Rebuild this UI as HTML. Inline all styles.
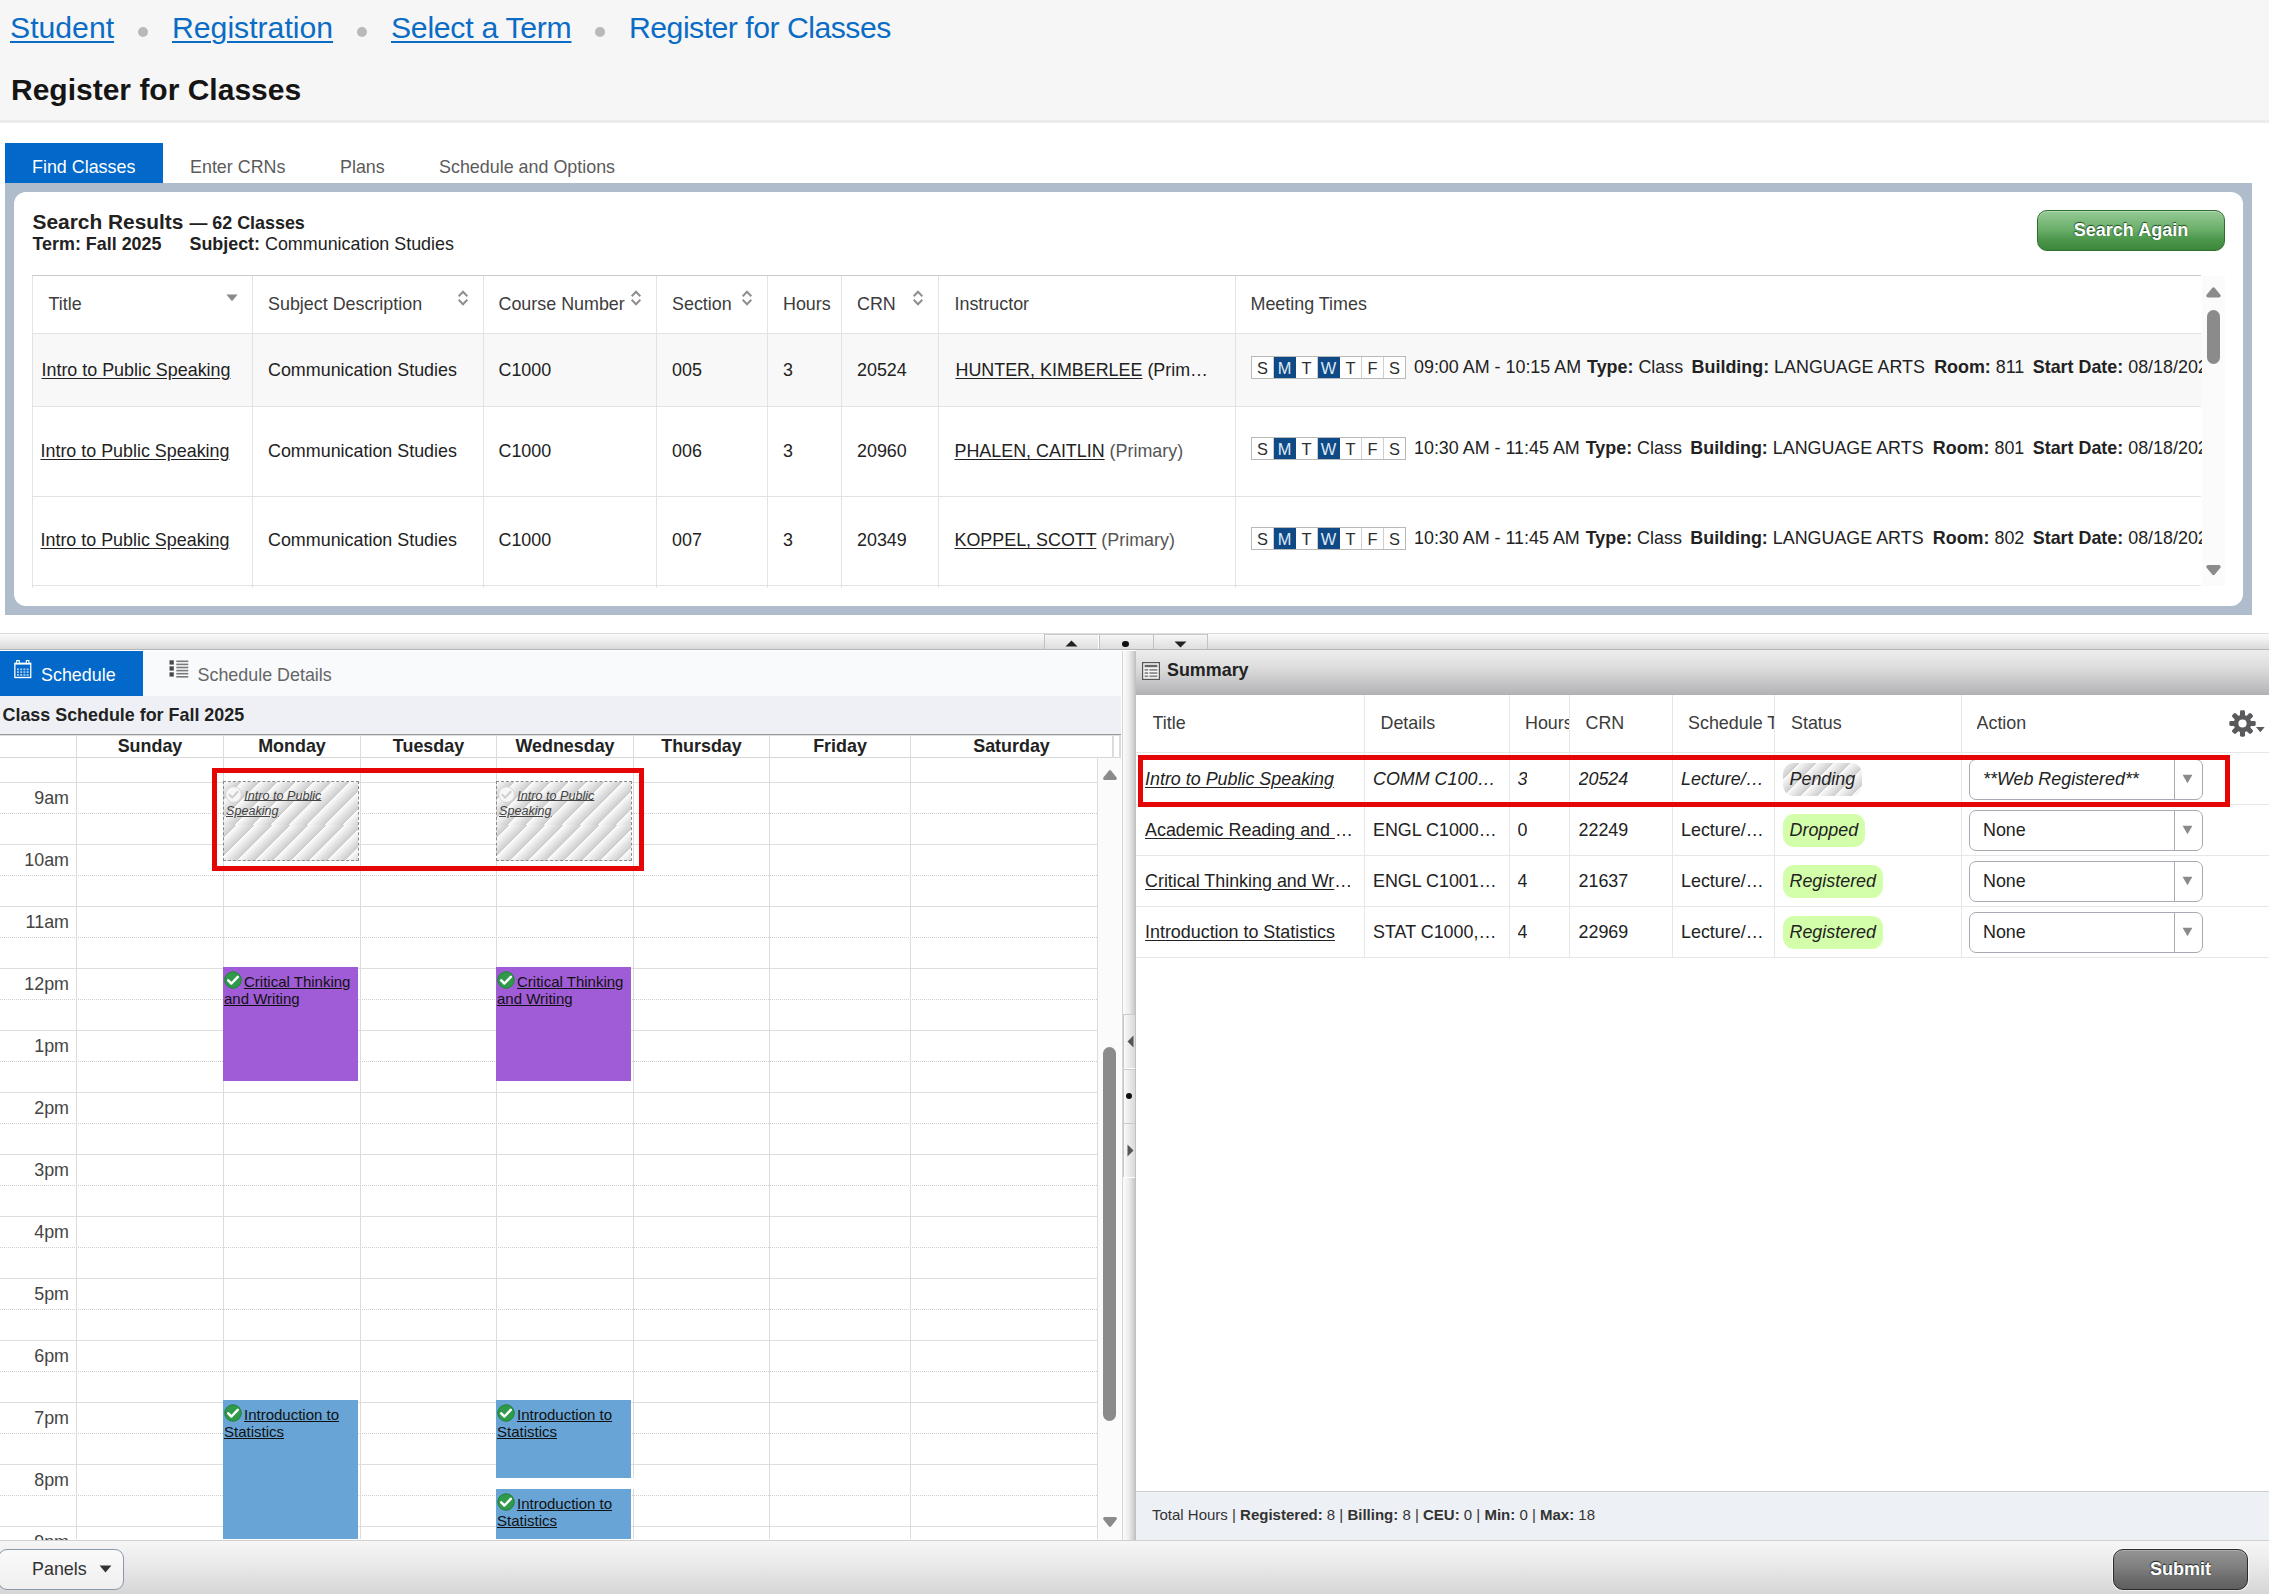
<!DOCTYPE html>
<html lang="en">
<head>
<meta charset="utf-8">
<title>Register for Classes</title>
<style>
*{box-sizing:border-box;margin:0;padding:0}
html,body{width:2269px;height:1594px;overflow:hidden;background:#fff}
body{position:relative;font-family:"Liberation Sans",Arial,sans-serif;font-size:17.9px;color:#222;line-height:1}
.abs{position:absolute}
a{color:inherit}
/* ---------- header ---------- */
#hdr{left:0;top:0;width:2269px;height:123px;background:#f6f6f6;border-bottom:3px solid #ececec}
.bc{top:8.7px;font-size:30.2px;line-height:38px;color:#0b6cc5;white-space:nowrap}
.bc a{text-decoration:underline;text-decoration-thickness:2px;text-underline-offset:3px}
.dot{width:10px;height:10px;border-radius:50%;background:#b9b9b9;top:27px}
#h1{left:11px;top:70px;font-size:30px;line-height:40px;font-weight:700;color:#151515;white-space:nowrap}
/* ---------- tabs ---------- */
.tab{top:143px;height:40px;line-height:48px;font-size:17.9px;color:#5b5b5b;white-space:nowrap}
#tab1{left:5px;width:158px;background:#0268c9;color:#fff;text-align:left;padding-left:27px}
/* ---------- results container ---------- */
#box{left:5px;top:183px;width:2247px;height:432px;background:#aebccb}
#boxin{left:9px;top:9px;width:2229px;height:414px;background:#fff;border-radius:12px}

/* ---------- results ---------- */
.b{font-weight:700}
#sr1{left:32.5px;top:210px;line-height:24px;white-space:nowrap;color:#222}
#sr1 .big{font-size:20.9px;font-weight:700;margin-right:1px}
#sr2{left:32.5px;top:233px;line-height:22px;white-space:nowrap;color:#222}
#again{left:2037px;top:210px;width:188px;height:41px;border:1px solid #2f6d2f;border-radius:10px;background:linear-gradient(#95ca95 0%,#6db06d 45%,#4f994f 70%,#3d873d 100%);color:#fff;font-weight:700;font-size:18px;line-height:38.4px;text-align:center;text-shadow:0 -1px 1px rgba(0,40,0,.75),-1px 0 1px rgba(0,40,0,.35);box-shadow:inset 0 1px 0 rgba(255,255,255,.3)}
#tbl{left:32px;top:275px;width:2169px;height:311px;overflow:hidden;border-top:1.5px solid #c9c9c9}
.vl{top:276px;width:1px;height:312px;background:#e3e3e3}
.hl{left:32px;width:2169px;height:1px;background:#e3e3e3}
.th{top:294px;line-height:20px;color:#3c3c3c;white-space:nowrap}
.td{line-height:20px;color:#222;white-space:nowrap}
.td a{text-decoration:underline;text-underline-offset:2px}
.r1{top:360px}.r2{top:441px}.r3{top:530px}
.days{height:22.6px;width:155px;border:1px solid #b9b9b9;background:#fff;display:flex;font-size:16.4px;line-height:22.5px;color:#2e2e2e;margin-top:-0.5px}
.days i{flex:1;font-style:normal;text-align:center;border-right:1px solid #cfcfcf}
.days i:last-child{border-right:0}
.days i.on{background:#0f4a87;color:#dce9f7;border-right-color:#0f4a87}
.mt{left:1414px;width:788.3px;overflow:hidden;line-height:20px;white-space:pre;color:#222}
.sorti{width:12px;height:18px}

/* ---------- splitters ---------- */
#hsplit{left:0;top:633px;width:2269px;height:17px;border-top:1px solid #dcdcdc;border-bottom:1px solid #b5b5b5;background:linear-gradient(#fbfbfb 0%,#f1f1f1 35%,#d9d9d9 100%)}
.hbtn{top:634px;height:15px;width:55px;border-left:1px solid #c2c2c2;border-right:1px solid #fff;border-top:1px solid #c9c9c9;background:linear-gradient(#f6f6f6,#dedede)}
#vsplit{left:1122px;top:651px;width:14px;height:889px;border-left:1px solid #d4d4d4;background:linear-gradient(90deg,#fcfcfc 0%,#ededed 45%,#cdcdcd 85%,#bcbcbc 100%)}
.vbtn{left:1123px;width:12px;height:55px;border-top:1px solid #c9c9c9;border-bottom:1px solid #fff;border-left:1px solid #c9c9c9;background:linear-gradient(90deg,#f9f9f9,#dadada)}
/* ---------- schedule panel ---------- */
#stabs{left:0;top:651px;width:1121px;height:45px;background:#f9fafc}
#stab1{left:0;top:651px;width:143px;height:45px;background:#0268c9}
.stx{top:664px;line-height:22px;white-space:nowrap}
#cshead{left:0;top:696px;width:1121px;height:38.5px;background:#eef0f5;border-bottom:1.5px solid #9a9a9a}
#cstitle{left:2.5px;top:704px;line-height:22px;font-weight:700;color:#222;white-space:nowrap}
.dh{top:735px;height:23px;line-height:23px;font-weight:700;color:#222;text-align:center}
.cvl{top:735px;width:1px;height:804px;background:#dcdcdc}
.chs{left:0;width:1097px;height:1px;background:#dedede}
.chd{left:0;width:1097px;height:0;border-top:1px dotted #d0d0d0}
.tl{left:0;width:69px;text-align:right;line-height:20px;color:#444;white-space:nowrap}
.ev{overflow:hidden}
.evt{line-height:16.7px;font-size:15px;color:#111}
.evt a{text-decoration:underline;text-underline-offset:1px}
.ck{display:inline-block;width:18px;height:18px;vertical-align:-2px;margin-right:2px}
.pend{border:1px dashed #8a8a8a;background:repeating-linear-gradient(135deg,#fcfcfc 0,#cbcbcb 12.7px) 0 0/100% 43px no-repeat,repeating-linear-gradient(135deg,#fcfcfc 0,#cbcbcb 12.7px) -5px 43px/calc(100% + 5px) 43px no-repeat}
.pevt{font-size:12.6px;line-height:15.4px;font-style:italic;color:#444}
.pevt a{text-decoration:underline}
.red{border:5px solid #e60505}

/* ---------- summary panel ---------- */
#sumhd{left:1136px;top:650px;width:1133px;height:45px;background:linear-gradient(#ededed 0%,#dcdcdd 40%,#c4c4c6 75%,#b1b1b4 100%)}
#sumtt{left:1167px;top:659px;line-height:22px;font-weight:700;color:#222;white-space:nowrap}
.sth{top:712px;line-height:22px;color:#3c3c3c;white-space:nowrap;overflow:hidden}
.svl{top:695px;width:1px;height:262px;background:#e7e7e7}
.shl{left:1136px;width:1133px;height:1px;background:#e7e7e7}
.sc{line-height:22px;white-space:nowrap;overflow:hidden;text-overflow:ellipsis;color:#222;margin-top:1px}
.sc a{text-decoration:underline;text-underline-offset:2px}
.it{font-style:italic}
.pill{height:33px;border-radius:11px;background:#d4ffaa;font-style:italic;line-height:33px;padding-left:6.5px;color:#222;white-space:nowrap}
.ppend{background:repeating-linear-gradient(135deg,#fafafa 0,#cccccc 12px)}
.sel{left:1969px;width:234px;height:41px;border:1px solid #a6abb3;border-radius:7px;background:#fff}
.sel .dv{position:absolute;left:203.5px;top:0;width:1px;height:39px;background:#a9aeb6}
.sel .tx{position:absolute;left:13px;top:8px;line-height:22px;white-space:nowrap;color:#222}
.sel svg{position:absolute;left:212px;top:14px}
#totals{left:1136px;top:1491px;width:1133px;height:49px;background:#edf0f5;border-top:1px solid #cfcfcf}
#tottx{left:1152px;top:1505px;font-size:15px;line-height:20px;color:#333;white-space:nowrap}
/* ---------- footer ---------- */
#foot{left:0;top:1540px;width:2269px;height:54px;background:linear-gradient(#f6f6f6 0%,#ebebeb 40%,#d6d6d6 100%);border-top:1px solid #d0d0d0}
#panels{left:-2px;top:1549px;width:126px;height:41px;border:1px solid #8a98ac;border-radius:9px;background:linear-gradient(#fafafa,#efefef)}
#submit{left:2113px;top:1549px;width:135px;height:41px;border:1.3px solid #2b2b2b;border-radius:10px;background:linear-gradient(#949494 0%,#7f7f7f 45%,#6b6b6b 75%,#5f5f5f 100%);color:#fff;font-weight:700;font-size:18px;line-height:38.6px;text-align:center;text-shadow:0 -1px 1px rgba(0,0,0,.75),-1px 0 1px rgba(0,0,0,.35);box-shadow:inset 0 1px 0 rgba(255,255,255,.25),0 0 0 1px rgba(255,255,255,.6)}
</style>
</head>
<body>

<!-- header -->
<div id="hdr" class="abs"></div>
<div class="abs bc" style="left:10px"><a>Student</a></div>
<div class="abs dot" style="left:138px"></div>
<div class="abs bc" style="left:172px"><a>Registration</a></div>
<div class="abs dot" style="left:357px"></div>
<div class="abs bc" style="left:391px;letter-spacing:-0.27px"><a>Select a Term</a></div>
<div class="abs dot" style="left:595px"></div>
<div class="abs bc" style="left:629px;letter-spacing:-0.5px">Register for Classes</div>
<div id="h1" class="abs">Register for Classes</div>

<!-- tabs -->
<div id="tab1" class="abs tab">Find Classes</div>
<div class="abs tab" style="left:190px">Enter CRNs</div>
<div class="abs tab" style="left:340px">Plans</div>
<div class="abs tab" style="left:439px">Schedule and Options</div>

<!-- results container -->
<div id="box" class="abs"><div id="boxin" class="abs"></div></div>


<!-- results -->
<div id="sr1" class="abs"><span class="big">Search Results</span> <span class="b">— 62 Classes</span></div>
<div id="sr2" class="abs"><span class="b">Term: Fall 2025</span><span style="display:inline-block;width:28px"></span><span class="b">Subject:</span> Communication Studies</div>
<div id="again" class="abs">Search Again</div>

<div class="abs" style="left:32.5px;top:333px;width:2169px;height:73px;background:#f8f8f8"></div>
<div class="abs" style="left:2202px;top:276px;width:23px;height:310px;background:#fbfbfb"></div>
<div id="tbl" class="abs"></div>
<div class="abs hl" style="top:333px"></div>
<div class="abs hl" style="top:406px"></div>
<div class="abs hl" style="top:496px"></div>
<div class="abs hl" style="top:585px"></div>
<div class="abs vl" style="left:32px"></div>
<div class="abs vl" style="left:252px"></div>
<div class="abs vl" style="left:483px"></div>
<div class="abs vl" style="left:656px"></div>
<div class="abs vl" style="left:767px"></div>
<div class="abs vl" style="left:841px"></div>
<div class="abs vl" style="left:938px"></div>
<div class="abs vl" style="left:1235px"></div>

<div class="abs th" style="left:48.5px">Title</div>
<div class="abs th" style="left:268px">Subject Description</div>
<div class="abs th" style="left:498.5px">Course Number</div>
<div class="abs th" style="left:672px">Section</div>
<div class="abs th" style="left:783px">Hours</div>
<div class="abs th" style="left:857px">CRN</div>
<div class="abs th" style="left:954.5px">Instructor</div>
<div class="abs th" style="left:1250.5px">Meeting Times</div>

<svg class="abs" style="left:226px;top:294px" width="12" height="8" viewBox="0 0 12 8"><path d="M0.3 0.5h11.4L6 7.2z" fill="#8a8a8a"/></svg>
<svg class="abs sorti" style="left:456.5px;top:289px" viewBox="0 0 12 18"><path d="M1.7 7.3L6 2.8 10.3 7.3M1.7 10.7L6 15.2 10.3 10.7" fill="none" stroke="#8f8f8f" stroke-width="2"/></svg>
<svg class="abs sorti" style="left:630px;top:289px" viewBox="0 0 12 18"><path d="M1.7 7.3L6 2.8 10.3 7.3M1.7 10.7L6 15.2 10.3 10.7" fill="none" stroke="#8f8f8f" stroke-width="2"/></svg>
<svg class="abs sorti" style="left:740.5px;top:289px" viewBox="0 0 12 18"><path d="M1.7 7.3L6 2.8 10.3 7.3M1.7 10.7L6 15.2 10.3 10.7" fill="none" stroke="#8f8f8f" stroke-width="2"/></svg>
<svg class="abs sorti" style="left:911.5px;top:289px" viewBox="0 0 12 18"><path d="M1.7 7.3L6 2.8 10.3 7.3M1.7 10.7L6 15.2 10.3 10.7" fill="none" stroke="#8f8f8f" stroke-width="2"/></svg>

<div class="abs td r1" style="left:41.5px"><a>Intro to Public Speaking</a></div>
<div class="abs td r1" style="left:268px">Communication Studies</div>
<div class="abs td r1" style="left:498.5px">C1000</div>
<div class="abs td r1" style="left:672px">005</div>
<div class="abs td r1" style="left:783px">3</div>
<div class="abs td r1" style="left:857px">20524</div>
<div class="abs td r1" style="left:955.5px"><a>HUNTER, KIMBERLEE</a><span style="color:#222"> (Prim…</span></div>
<div class="abs days" style="left:1251px;top:356.5px"><i>S</i><i class="on">M</i><i>T</i><i class="on">W</i><i>T</i><i>F</i><i>S</i></div>
<div class="abs mt" style="top:357px">09:00 AM - 10:15 AM <b style="margin-left:1px">Type:</b> Class  <b style="margin-left:-1.5px">Building:</b> LANGUAGE ARTS  <b style="margin-left:-0.7px">Room:</b> 811  <b style="margin-left:-1.5px">Start Date:</b> 08/18/2025</div>

<div class="abs td r2" style="left:40.5px"><a>Intro to Public Speaking</a></div>
<div class="abs td r2" style="left:268px">Communication Studies</div>
<div class="abs td r2" style="left:498.5px">C1000</div>
<div class="abs td r2" style="left:672px">006</div>
<div class="abs td r2" style="left:783px">3</div>
<div class="abs td r2" style="left:857px">20960</div>
<div class="abs td r2" style="left:954.5px"><a>PHALEN, CAITLIN</a><span style="color:#555"> (Primary)</span></div>
<div class="abs days" style="left:1251px;top:437.5px"><i>S</i><i class="on">M</i><i>T</i><i class="on">W</i><i>T</i><i>F</i><i>S</i></div>
<div class="abs mt" style="top:438px">10:30 AM - 11:45 AM <b style="margin-left:1px">Type:</b> Class  <b style="margin-left:-1.5px">Building:</b> LANGUAGE ARTS  <b style="margin-left:-0.7px">Room:</b> 801  <b style="margin-left:-1.5px">Start Date:</b> 08/18/2025</div>

<div class="abs td r3" style="left:40.5px"><a>Intro to Public Speaking</a></div>
<div class="abs td r3" style="left:268px">Communication Studies</div>
<div class="abs td r3" style="left:498.5px">C1000</div>
<div class="abs td r3" style="left:672px">007</div>
<div class="abs td r3" style="left:783px">3</div>
<div class="abs td r3" style="left:857px">20349</div>
<div class="abs td r3" style="left:954.5px"><a>KOPPEL, SCOTT</a><span style="color:#555"> (Primary)</span></div>
<div class="abs days" style="left:1251px;top:527.5px"><i>S</i><i class="on">M</i><i>T</i><i class="on">W</i><i>T</i><i>F</i><i>S</i></div>
<div class="abs mt" style="top:528px">10:30 AM - 11:45 AM <b style="margin-left:1px">Type:</b> Class  <b style="margin-left:-1.5px">Building:</b> LANGUAGE ARTS  <b style="margin-left:-0.7px">Room:</b> 802  <b style="margin-left:-1.5px">Start Date:</b> 08/18/2025</div>

<!-- results scrollbar -->
<svg class="abs" style="left:2205px;top:286.3px" width="17" height="12.5" viewBox="0 0 15 11"><path d="M7.5 2.6L12.4 8.6H2.6z" fill="#8b8b8b" stroke="#8b8b8b" stroke-width="3" stroke-linejoin="round"/></svg>
<div class="abs" style="left:2207px;top:310px;width:13px;height:54px;border-radius:6.5px;background:#8b8b8b"></div>
<svg class="abs" style="left:2205px;top:563.7px" width="17" height="12.5" viewBox="0 0 15 11"><path d="M7.5 8.4L12.4 2.4H2.6z" fill="#8b8b8b" stroke="#8b8b8b" stroke-width="3" stroke-linejoin="round"/></svg>

<!--RESULTS-->


<!-- horizontal splitter -->
<div id="hsplit" class="abs"></div>
<div class="abs hbtn" style="left:1044px"></div>
<div class="abs hbtn" style="left:1099px"></div>
<div class="abs hbtn" style="left:1153px"></div>
<div class="abs" style="left:1207px;top:634px;width:1px;height:15px;background:#c2c2c2"></div>
<svg class="abs" style="left:1065px;top:640px" width="13" height="7" viewBox="0 0 13 7"><path d="M6.5 0.5L12.5 6.5H0.5z" fill="#222"/></svg>
<div class="abs" style="left:1122.3px;top:641px;width:6.6px;height:6.4px;border-radius:50%;background:#111"></div>
<svg class="abs" style="left:1174px;top:641px" width="13" height="7" viewBox="0 0 13 7"><path d="M6.5 6.5L12.5 0.5H0.5z" fill="#222"/></svg>



<!-- schedule panel -->
<div id="stabs" class="abs"></div>
<div id="stab1" class="abs"></div>
<svg class="abs" style="left:14px;top:660px" width="18" height="19" viewBox="0 0 18 19">
 <rect x="0.2" y="2.6" width="17.2" height="15.6" fill="#fff"/>
 <rect x="2.2" y="0" width="3.6" height="4" fill="#fff"/><rect x="11.8" y="0" width="3.6" height="4" fill="#fff"/>
 <rect x="3.3" y="1.2" width="1.4" height="1.8" fill="#0268c9"/><rect x="12.9" y="1.2" width="1.4" height="1.8" fill="#0268c9"/>
 <rect x="1.5" y="4.6" width="14.6" height="12.2" fill="#0268c9"/>
 <g fill="#9fc6ee"><rect x="3" y="8.4" width="2" height="1.9"/><rect x="6.2" y="8.4" width="2" height="1.9"/><rect x="9.4" y="8.4" width="2" height="1.9"/><rect x="12.6" y="8.4" width="2" height="1.9"/>
 <rect x="3" y="11.2" width="2" height="1.9"/><rect x="6.2" y="11.2" width="2" height="1.9"/><rect x="9.4" y="11.2" width="2" height="1.9"/><rect x="12.6" y="11.2" width="2" height="1.9"/>
 <rect x="3" y="14" width="2" height="1.9"/><rect x="6.2" y="14" width="2" height="1.9"/><rect x="9.4" y="14" width="2" height="1.9"/><rect x="12.6" y="14" width="2" height="1.9"/></g>
</svg>
<div class="abs stx" style="left:41px;color:#fff">Schedule</div>
<svg class="abs" style="left:169px;top:660px" width="20" height="18" viewBox="0 0 20 18">
 <g fill="#4a4a4a"><rect x="0.5" y="0.3" width="4.3" height="4.3"/><rect x="0.5" y="6.3" width="4.3" height="4.3"/><rect x="0.5" y="12.3" width="4.3" height="4.3"/></g>
 <g fill="#7a7a7a"><rect x="7.3" y="0.5" width="12" height="1.6"/><rect x="7.3" y="3.6" width="12" height="1.6"/><rect x="7.3" y="6.7" width="12" height="1.6"/><rect x="7.3" y="9.8" width="12" height="1.6"/><rect x="7.3" y="12.9" width="12" height="1.6"/><rect x="7.3" y="16" width="12" height="1.6"/></g>
</svg>
<div class="abs stx" style="left:197.5px;color:#666">Schedule Details</div>
<div id="cshead" class="abs"></div>
<div class="abs" style="left:0;top:734.5px;width:1121px;height:1.5px;background:#dedede"></div>
<div id="cstitle" class="abs">Class Schedule for Fall 2025</div>

<div class="abs" style="left:1097px;top:758px;width:24px;height:782px;background:#fbfbfb"></div>
<div class="abs chs" style="top:782px"></div>
<div class="abs chd" style="top:813px"></div>
<div class="abs chs" style="top:844px"></div>
<div class="abs chd" style="top:875px"></div>
<div class="abs chs" style="top:906px"></div>
<div class="abs chd" style="top:937px"></div>
<div class="abs chs" style="top:968px"></div>
<div class="abs chd" style="top:999px"></div>
<div class="abs chs" style="top:1030px"></div>
<div class="abs chd" style="top:1061px"></div>
<div class="abs chs" style="top:1092px"></div>
<div class="abs chd" style="top:1123px"></div>
<div class="abs chs" style="top:1154px"></div>
<div class="abs chd" style="top:1185px"></div>
<div class="abs chs" style="top:1216px"></div>
<div class="abs chd" style="top:1247px"></div>
<div class="abs chs" style="top:1278px"></div>
<div class="abs chd" style="top:1309px"></div>
<div class="abs chs" style="top:1340px"></div>
<div class="abs chd" style="top:1371px"></div>
<div class="abs chs" style="top:1402px"></div>
<div class="abs chd" style="top:1433px"></div>
<div class="abs chs" style="top:1464px"></div>
<div class="abs chd" style="top:1495px"></div>
<div class="abs chs" style="top:1526px"></div>
<div class="abs chs" style="top:757px;width:1121px;background:#d6d6d6"></div>
<div class="abs cvl" style="left:76px"></div>
<div class="abs cvl" style="left:223px"></div>
<div class="abs cvl" style="left:360px"></div>
<div class="abs cvl" style="left:496px"></div>
<div class="abs cvl" style="left:633px"></div>
<div class="abs cvl" style="left:769px"></div>
<div class="abs cvl" style="left:910px"></div>
<div class="abs cvl" style="left:1097px;top:757px;height:782px"></div>
<div class="abs cvl" style="left:1112.3px;width:1.5px;height:22px;top:736px"></div><div class="abs cvl" style="left:1119.2px;width:1.6px;height:22px;top:736px"></div>
<div class="abs dh" style="left:77px;width:146px">Sunday</div>
<div class="abs dh" style="left:224px;width:136px">Monday</div>
<div class="abs dh" style="left:361px;width:135px">Tuesday</div>
<div class="abs dh" style="left:497px;width:136px">Wednesday</div>
<div class="abs dh" style="left:634px;width:135px">Thursday</div>
<div class="abs dh" style="left:770px;width:140px">Friday</div>
<div class="abs dh" style="left:911px;width:201px">Saturday</div>
<div class="abs tl" style="top:788px">9am</div>
<div class="abs tl" style="top:850px">10am</div>
<div class="abs tl" style="top:912px">11am</div>
<div class="abs tl" style="top:974px">12pm</div>
<div class="abs tl" style="top:1036px">1pm</div>
<div class="abs tl" style="top:1098px">2pm</div>
<div class="abs tl" style="top:1160px">3pm</div>
<div class="abs tl" style="top:1222px">4pm</div>
<div class="abs tl" style="top:1284px">5pm</div>
<div class="abs tl" style="top:1346px">6pm</div>
<div class="abs tl" style="top:1408px">7pm</div>
<div class="abs tl" style="top:1470px">8pm</div>
<div class="abs tl" style="top:1532px">9pm</div>
<div class="abs ev pend" style="left:223px;top:781px;width:136px;height:80px"><div class="pevt" style="padding:3.6px 2px 0 2px"><svg class="ck" style="width:17px;height:17px;vertical-align:-3.5px;margin-right:1.9px;margin-left:-0.6px" viewBox="0 0 18 18"><circle cx="9" cy="9" r="8.3" fill="#f7f7f7" stroke="#d5d5d5" stroke-width="1"/><path d="M4.6 9.3l3 3 5.8-6.2" fill="none" stroke="#cfcfcf" stroke-width="2.2" stroke-linecap="round" stroke-linejoin="round"/></svg><a>Intro to Public Speaking</a></div></div>
<div class="abs ev" style="left:223px;top:967px;width:135px;height:114px;background:#a05cd6"><div class="evt" style="padding:4px 1px 0 1px"><svg class="ck" viewBox="0 0 18 18"><circle cx="9" cy="9" r="8.6" fill="#2f9a4a"/><circle cx="9" cy="9" r="8.2" fill="none" stroke="#1f7d38" stroke-width="0.8"/><path d="M4.2 9.3l3.2 3.2 6.4-6.6" fill="none" stroke="#fff" stroke-width="2.5" stroke-linecap="round" stroke-linejoin="round"/></svg><a>Critical Thinking and Writing</a></div></div>
<div class="abs ev pend" style="left:496px;top:781px;width:136px;height:80px"><div class="pevt" style="padding:3.6px 2px 0 2px"><svg class="ck" style="width:17px;height:17px;vertical-align:-3.5px;margin-right:1.9px;margin-left:-0.6px" viewBox="0 0 18 18"><circle cx="9" cy="9" r="8.3" fill="#f7f7f7" stroke="#d5d5d5" stroke-width="1"/><path d="M4.6 9.3l3 3 5.8-6.2" fill="none" stroke="#cfcfcf" stroke-width="2.2" stroke-linecap="round" stroke-linejoin="round"/></svg><a>Intro to Public Speaking</a></div></div>
<div class="abs ev" style="left:496px;top:967px;width:135px;height:114px;background:#a05cd6"><div class="evt" style="padding:4px 1px 0 1px"><svg class="ck" viewBox="0 0 18 18"><circle cx="9" cy="9" r="8.6" fill="#2f9a4a"/><circle cx="9" cy="9" r="8.2" fill="none" stroke="#1f7d38" stroke-width="0.8"/><path d="M4.2 9.3l3.2 3.2 6.4-6.6" fill="none" stroke="#fff" stroke-width="2.5" stroke-linecap="round" stroke-linejoin="round"/></svg><a>Critical Thinking and Writing</a></div></div>
<div class="abs ev" style="left:223px;top:1400px;width:135px;height:139px;background:#68a5d6"><div class="evt" style="padding:4px 1px 0 1px"><svg class="ck" viewBox="0 0 18 18"><circle cx="9" cy="9" r="8.6" fill="#2f9a4a"/><circle cx="9" cy="9" r="8.2" fill="none" stroke="#1f7d38" stroke-width="0.8"/><path d="M4.2 9.3l3.2 3.2 6.4-6.6" fill="none" stroke="#fff" stroke-width="2.5" stroke-linecap="round" stroke-linejoin="round"/></svg><a>Introduction to Statistics</a></div></div>
<div class="abs ev" style="left:496px;top:1400px;width:135px;height:78px;background:#68a5d6"><div class="evt" style="padding:4px 1px 0 1px"><svg class="ck" viewBox="0 0 18 18"><circle cx="9" cy="9" r="8.6" fill="#2f9a4a"/><circle cx="9" cy="9" r="8.2" fill="none" stroke="#1f7d38" stroke-width="0.8"/><path d="M4.2 9.3l3.2 3.2 6.4-6.6" fill="none" stroke="#fff" stroke-width="2.5" stroke-linecap="round" stroke-linejoin="round"/></svg><a>Introduction to Statistics</a></div></div>
<div class="abs" style="left:496px;top:1478px;width:138px;height:11px;background:#fff"></div>
<div class="abs ev" style="left:496px;top:1489px;width:135px;height:50px;background:#68a5d6"><div class="evt" style="padding:4px 1px 0 1px"><svg class="ck" viewBox="0 0 18 18"><circle cx="9" cy="9" r="8.6" fill="#2f9a4a"/><circle cx="9" cy="9" r="8.2" fill="none" stroke="#1f7d38" stroke-width="0.8"/><path d="M4.2 9.3l3.2 3.2 6.4-6.6" fill="none" stroke="#fff" stroke-width="2.5" stroke-linecap="round" stroke-linejoin="round"/></svg><a>Introduction to Statistics</a></div></div>
<div class="abs red" style="left:212px;top:768px;width:432px;height:103px"></div>

<!-- calendar scrollbar -->
<svg class="abs" style="left:1101.5px;top:768.5px" width="16" height="12" viewBox="0 0 16 12"><path d="M8 2.6L13.4 9.4H2.6z" fill="#8b8b8b" stroke="#8b8b8b" stroke-width="3" stroke-linejoin="round"/></svg>
<div class="abs" style="left:1103px;top:1047px;width:13px;height:374px;border-radius:6.5px;background:#8b8b8b"></div>
<svg class="abs" style="left:1101.5px;top:1516px" width="16" height="12" viewBox="0 0 16 12"><path d="M8 9.4L13.4 2.6H2.6z" fill="#8b8b8b" stroke="#8b8b8b" stroke-width="3" stroke-linejoin="round"/></svg>

<!-- vertical splitter -->
<div id="vsplit" class="abs"></div>
<div class="abs vbtn" style="top:1014px"></div>
<div class="abs vbtn" style="top:1069px"></div>
<div class="abs vbtn" style="top:1123px"></div>
<div class="abs" style="left:1123px;top:1177px;width:12px;height:1px;background:#fff"></div>
<svg class="abs" style="left:1127px;top:1035px" width="7" height="13" viewBox="0 0 7 13"><path d="M0.5 6.5L6.5 0.5V12.5z" fill="#555"/></svg>
<div class="abs" style="left:1125.8px;top:1092.6px;width:6.6px;height:6.6px;border-radius:50%;background:#111"></div>
<svg class="abs" style="left:1127px;top:1144px" width="7" height="13" viewBox="0 0 7 13"><path d="M6.5 6.5L0.5 0.5V12.5z" fill="#555"/></svg>



<!-- summary panel -->
<div id="sumhd" class="abs"></div>
<svg class="abs" style="left:1142px;top:662px" width="18" height="18" viewBox="0 0 18 18">
 <rect x="0.6" y="0.6" width="16.8" height="16.8" fill="#f4f4f4" stroke="#555" stroke-width="1.2"/>
 <rect x="2.6" y="2.8" width="12.8" height="2.4" fill="#666"/>
 <g fill="#888"><rect x="2.6" y="7" width="3.6" height="1.7"/><rect x="7.4" y="7" width="8" height="1.7"/><rect x="2.6" y="10.2" width="3.6" height="1.7"/><rect x="7.4" y="10.2" width="8" height="1.7"/><rect x="2.6" y="13.4" width="3.6" height="1.7"/><rect x="7.4" y="13.4" width="8" height="1.7"/></g>
</svg>
<div id="sumtt" class="abs">Summary</div>
<div class="abs shl" style="top:752px"></div>
<div class="abs shl" style="top:804px"></div>
<div class="abs shl" style="top:855px"></div>
<div class="abs shl" style="top:906px"></div>
<div class="abs shl" style="top:957px"></div>
<div class="abs svl" style="left:1364px"></div>
<div class="abs svl" style="left:1509px"></div>
<div class="abs svl" style="left:1569px"></div>
<div class="abs svl" style="left:1672px"></div>
<div class="abs svl" style="left:1774px"></div>
<div class="abs svl" style="left:1961px"></div>
<div class="abs sth" style="left:1152.5px;width:200px">Title</div>
<div class="abs sth" style="left:1380.5px;width:120px">Details</div>
<div class="abs sth" style="left:1525px;width:44px">Hours</div>
<div class="abs sth" style="left:1585.5px;width:80px">CRN</div>
<div class="abs sth" style="left:1688px;width:86px">Schedule Type</div>
<div class="abs sth" style="left:1791px;width:120px">Status</div>
<div class="abs sth" style="left:1976.5px;width:120px">Action</div>
<svg class="abs" style="left:2229px;top:710px" width="36" height="27" viewBox="0 0 36 27">
 <g transform="translate(13.5,13.5)" fill="#5a5a5d">
  <g id="gt"><rect x="-2.5" y="-13.2" width="5" height="7" rx="1.4"/></g>
  <use href="#gt" transform="rotate(45)"/><use href="#gt" transform="rotate(90)"/><use href="#gt" transform="rotate(135)"/>
  <use href="#gt" transform="rotate(180)"/><use href="#gt" transform="rotate(225)"/><use href="#gt" transform="rotate(270)"/><use href="#gt" transform="rotate(315)"/>
  <circle r="8.8"/><circle r="4.1" fill="#fff"/>
 </g>
 <path d="M27 17h8.7l-4.35 5.3z" fill="#5a5a5d"/>
</svg>

<div class="abs sc it" style="left:1145px;top:767px;width:208px"><a>Intro to Public Speaking</a></div>
<div class="abs sc it" style="left:1373px;top:767px;width:125px">COMM C1000, 005</div>
<div class="abs sc it" style="left:1517.5px;top:767px">3</div>
<div class="abs sc it" style="left:1578.5px;top:767px">20524</div>
<div class="abs sc it" style="left:1681px;top:767px;width:90px">Lecture/Discussion</div>
<div class="abs pill ppend" style="left:1783px;top:762.5px;width:78.5px">Pending</div>
<div class="abs sel" style="top:759px"><span class="tx it">**Web Registered**</span><span class="dv"></span><svg width="11" height="10" viewBox="0 0 11 10"><path d="M0.6 0.8h9.8L5.5 9.2z" fill="#8a8a8a"/></svg></div>

<div class="abs sc" style="left:1145px;top:818px;width:208px"><a>Academic Reading and Writing</a></div>
<div class="abs sc" style="left:1373px;top:818px;width:125px">ENGL C1000E, 30</div>
<div class="abs sc" style="left:1517.5px;top:818px">0</div>
<div class="abs sc" style="left:1578.5px;top:818px">22249</div>
<div class="abs sc" style="left:1681px;top:818px;width:90px">Lecture/Discussion</div>
<div class="abs pill" style="left:1783px;top:813.5px;width:81.5px">Dropped</div>
<div class="abs sel" style="top:810px"><span class="tx">None</span><span class="dv"></span><svg width="11" height="10" viewBox="0 0 11 10"><path d="M0.6 0.8h9.8L5.5 9.2z" fill="#8a8a8a"/></svg></div>

<div class="abs sc" style="left:1145px;top:869px;width:208px"><a>Critical Thinking and Writing</a></div>
<div class="abs sc" style="left:1373px;top:869px;width:125px">ENGL C1001, 008</div>
<div class="abs sc" style="left:1517.5px;top:869px">4</div>
<div class="abs sc" style="left:1578.5px;top:869px">21637</div>
<div class="abs sc" style="left:1681px;top:869px;width:90px">Lecture/Discussion</div>
<div class="abs pill" style="left:1783px;top:864.5px;width:99.5px">Registered</div>
<div class="abs sel" style="top:861px"><span class="tx">None</span><span class="dv"></span><svg width="11" height="10" viewBox="0 0 11 10"><path d="M0.6 0.8h9.8L5.5 9.2z" fill="#8a8a8a"/></svg></div>

<div class="abs sc" style="left:1145px;top:920px;width:208px"><a>Introduction to Statistics</a></div>
<div class="abs sc" style="left:1373px;top:920px;width:125px">STAT C1000, 014</div>
<div class="abs sc" style="left:1517.5px;top:920px">4</div>
<div class="abs sc" style="left:1578.5px;top:920px">22969</div>
<div class="abs sc" style="left:1681px;top:920px;width:90px">Lecture/Discussion</div>
<div class="abs pill" style="left:1783px;top:915.5px;width:99.5px">Registered</div>
<div class="abs sel" style="top:912px"><span class="tx">None</span><span class="dv"></span><svg width="11" height="10" viewBox="0 0 11 10"><path d="M0.6 0.8h9.8L5.5 9.2z" fill="#8a8a8a"/></svg></div>
<div class="abs red" style="left:1138px;top:755px;width:1092px;height:52px"></div>

<div id="totals" class="abs"></div>
<div id="tottx" class="abs">Total Hours | <b>Registered:</b> 8 | <b>Billing:</b> 8 | <b>CEU:</b> 0 | <b>Min:</b> 0 | <b>Max:</b> 18</div>



<!-- footer -->
<div id="foot" class="abs"></div>
<div id="panels" class="abs"></div>
<div class="abs" style="left:32px;top:1558px;line-height:22px;color:#333;white-space:nowrap">Panels</div>
<svg class="abs" style="left:99px;top:1565px" width="13" height="8" viewBox="0 0 13 8"><path d="M0.6 0.5h11.8L6.5 7.5z" fill="#333"/></svg>
<div id="submit" class="abs">Submit</div>


</body>
</html>
